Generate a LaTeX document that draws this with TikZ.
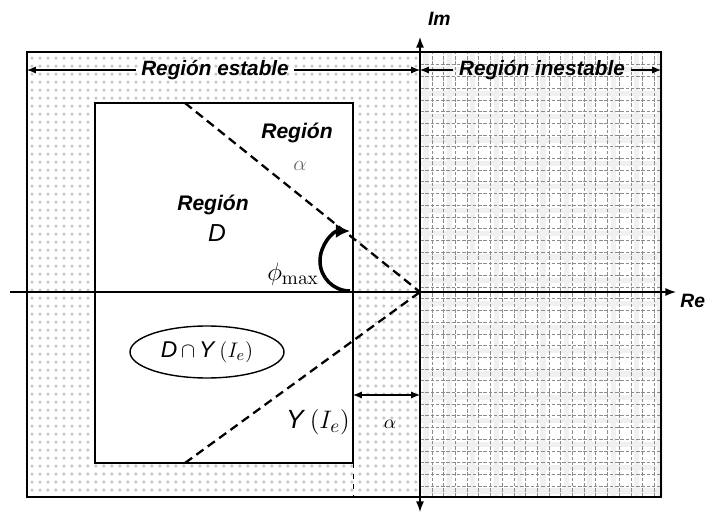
\documentclass[tikz,border=0pt]{standalone}
\usepackage[no-math]{fontspec}
\setmainfont{Liberation Sans}
\usetikzlibrary{patterns.meta, arrows.meta, shapes.geometric}

\begin{document}
\begin{tikzpicture}[x=0.02cm, y=0.02cm,
    achse/.style={line width=0.7pt, -{Latex[length=6pt,width=4.5pt]}},
    pfeil/.style={line width=0.6pt, {Latex[length=5pt,width=4pt]}-{Latex[length=5pt,width=4pt]}},
    grenze/.style={line width=1.3pt, dash pattern=on 5pt off 3pt},
    gitter/.style={black!45, line width=0.4pt, dash pattern=on 2pt off 1pt},
    band/.style={gray!12, line width=3pt},
    titel/.style={font=\fontsize{11.8}{13}\selectfont\bfseries\itshape, inner sep=3pt},
    bereich/.style={font=\fontsize{12}{14}\selectfont\bfseries\itshape},
  ]
        \useasboundingbox (0,0) rectangle (706,514);

        % stabiler Bereich (Punkte)
        \fill[pattern={Dots[distance=0.16cm, radius=0.035cm]}, pattern color=gray!45] (27,17) rectangle (420,462);

        % instabiler Bereich (Gitter)
        \foreach \x in {426,449.4,...,660} \draw[band] (\x,17) -- (\x,462);
        \foreach \y in {23,46.4,...,462} \draw[band] (420,\y) -- (661,\y);
        \foreach \x in {432,443.7,...,660} \draw[gitter] (\x,17) -- (\x,462);
        \foreach \y in {28,39.7,...,460} \draw[gitter] (420,\y) -- (661,\y);

        % Rahmen
        \draw[line width=1.1pt] (27,17) rectangle (661,462);

        % Region D
        \draw[fill=white, line width=1.3pt] (95,51) rectangle (353,411);
        \draw[dashed, line width=0.5pt] (353,51) -- (353,17);

        % Ursprung und Achsen
        \coordinate (O) at (420,222);
        \coordinate (reL) at (10,222);
        \coordinate (reR) at (676,222);
        \coordinate (imU) at (420,2);
        \coordinate (imO) at (420,477);
        \draw[line width=0.7pt] (95,222) -- (353,222);
        \draw[achse] (reL) -- (reR);
        \draw[achse] (O) -- (imO);
        \draw[achse] (O) -- (imU);
        \node[anchor=south west, font=\fontsize{11}{12}\selectfont\bfseries\itshape, inner sep=1pt] (im) at (426,486) {Im};
        \node[anchor=west, font=\fontsize{11}{13}\selectfont\bfseries\itshape, inner sep=0pt] (re) at (680,213) {Re};

        % Grenzlinien
        \coordinate (gO) at (185,411);
        \coordinate (gU) at (185,51);
        \draw[grenze] (gO) -- (O);
        \draw[grenze] (gU) -- (O);

        % Stabil / instabil
        \coordinate (stL) at (27,444);
        \coordinate (stR) at (420,444);
        \coordinate (inR) at (661,444);
        \node[titel] (stabil) at (215,444) {Región estable};
        \node[titel] (instabil) at (542,444) {Región inestable};
        \draw[line width=0.6pt, -{Latex[length=5pt,width=4pt]}] (stabil.west) -- (stL);
        \draw[line width=0.6pt, -{Latex[length=5pt,width=4pt]}] (stabil.east) -- (stR);
        \draw[line width=0.6pt, -{Latex[length=5pt,width=4pt]}] (instabil.west) -- (stR);
        \draw[line width=0.6pt, -{Latex[length=5pt,width=4pt]}] (instabil.east) -- (inR);

        % Beschriftungen
        \node[bereich] (regA) at (297,381) {Región};
        \node[text=black!60, font=\fontsize{13}{14}\selectfont] (alphaA) at (300,348) {$\alpha$};
        \node[bereich] (regD) at (213,309) {Región};
        \node[font=\fontsize{14}{16}\selectfont\itshape] (dD) at (217,281) {D};

        % Winkel phi_max
        \coordinate (phiA) at (350,223);
        \draw[line width=2pt, -{Latex[length=8pt,width=8pt]}] (phiA) arc[start angle=270, end angle=90, radius=30];
        \node[font=\fontsize{15}{16}\selectfont] (phi) at (293,240) {$\phi_{\max}$};

        % Schnittmenge
        \node[draw, ellipse, line width=0.8pt, minimum width=3.08cm, minimum height=1.04cm, font=\fontsize{13}{15}\selectfont] (schnitt) at (207,162) {\textit{D}\,$\cap$\,\textit{Y}\,$(I_{e})$};
        \node[font=\fontsize{15}{17}\selectfont] (yie) at (318,92) {\textit{Y}\,$\left(I_{e}\right)$};

        % Abstand alpha
        \coordinate (aL) at (353,119);
        \coordinate (aR) at (420,119);
        \draw[pfeil] (aL) -- (aR);
        \node[font=\fontsize{11}{12}\selectfont] (alphaB) at (390,90) {$\alpha$};
    \end{tikzpicture}
\end{document}
